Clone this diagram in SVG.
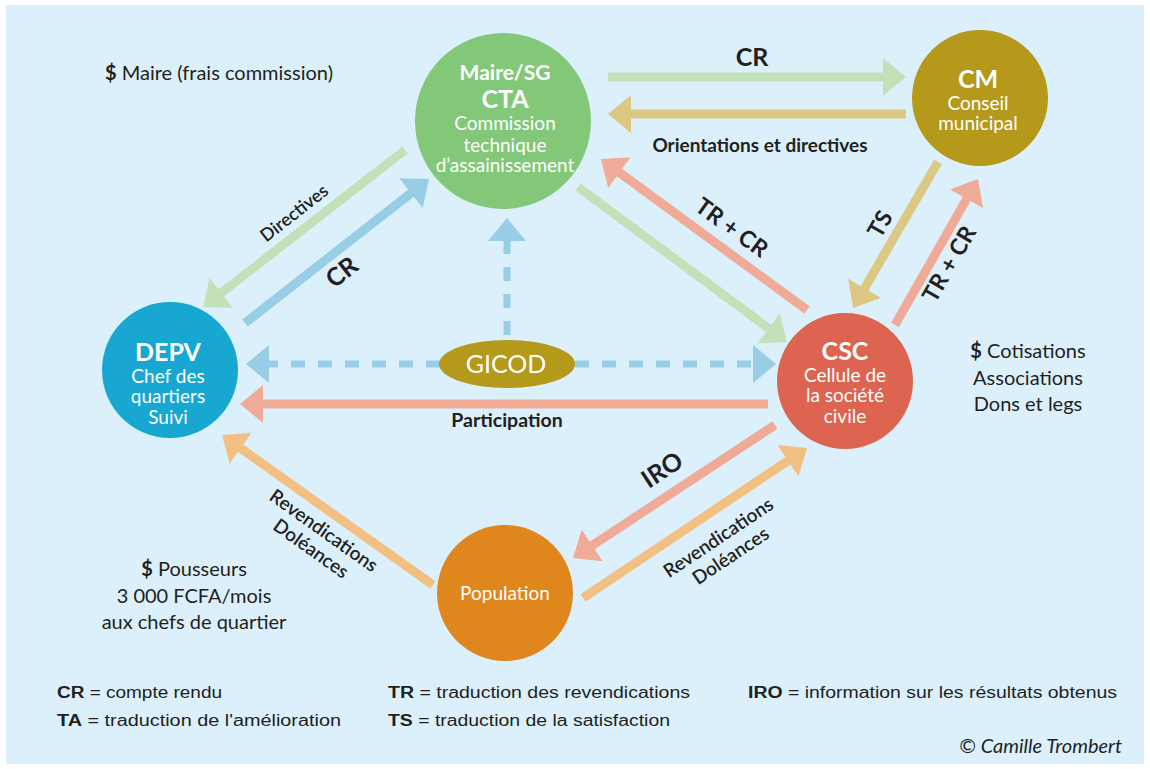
<svg xmlns="http://www.w3.org/2000/svg" width="1150" height="769" viewBox="0 0 1150 769">
<style>
text{font-family:"Lato","Open Sans","Liberation Sans",sans-serif;fill:#231f20}
.w{fill:#fff}
.b{font-weight:700}
.c{text-anchor:middle}
.sh{fill:none;stroke-width:9}
.g{stroke:#c3e1b9}.t{stroke:#dcc783}.bl{stroke:#98cde6}.s{stroke:#efab98}.o{stroke:#f3c083}
.d{stroke-dasharray:14 13;stroke-width:7}
.leg{font-family:"Liberation Sans Narrow","Liberation Sans",sans-serif;font-size:16px}
</style>
<defs>
<marker id="mg" markerUnits="userSpaceOnUse" markerWidth="24" markerHeight="38" refX="1" refY="19" orient="auto" viewBox="0 0 24 38"><path d="M0,0L23,19L0,38z" fill="#c3e1b9"/></marker>
<marker id="mt" markerUnits="userSpaceOnUse" markerWidth="24" markerHeight="38" refX="1" refY="19" orient="auto" viewBox="0 0 24 38"><path d="M0,0L23,19L0,38z" fill="#dcc783"/></marker>
<marker id="mb" markerUnits="userSpaceOnUse" markerWidth="24" markerHeight="38" refX="1" refY="19" orient="auto" viewBox="0 0 24 38"><path d="M0,0L23,19L0,38z" fill="#98cde6"/></marker>
<marker id="ms" markerUnits="userSpaceOnUse" markerWidth="24" markerHeight="38" refX="1" refY="19" orient="auto" viewBox="0 0 24 38"><path d="M0,0L23,19L0,38z" fill="#efab98"/></marker>
<marker id="mo" markerUnits="userSpaceOnUse" markerWidth="24" markerHeight="38" refX="1" refY="19" orient="auto" viewBox="0 0 24 38"><path d="M0,0L23,19L0,38z" fill="#f3c083"/></marker>
</defs>
<rect width="1150" height="769" fill="#fff"/>
<rect x="6" y="5" width="1138" height="759" fill="#dbf0fb"/>

<g id="connectors">
<line class="sh g" x1="608" y1="77" x2="884" y2="77" marker-end="url(#mg)"/>
<line class="sh t" x1="906" y1="114" x2="630" y2="114" marker-end="url(#mt)"/>
<line class="sh g" x1="405" y1="150" x2="220.4" y2="293.5" marker-end="url(#mg)"/>
<line class="sh bl" x1="245" y1="323" x2="411.7" y2="192.6" marker-end="url(#mb)"/>
<line class="sh s" x1="807" y1="310" x2="618.7" y2="172" marker-end="url(#ms)"/>
<line class="sh g" x1="578" y1="187" x2="769.3" y2="328.9" marker-end="url(#mg)"/>
<line class="sh t" x1="938" y1="162" x2="864.1" y2="289" marker-end="url(#mt)"/>
<line class="sh s" x1="895" y1="325" x2="967.1" y2="198.1" marker-end="url(#ms)"/>
<line class="sh bl d" x1="440" y1="364" x2="268" y2="364" marker-end="url(#mb)"/>
<line class="sh bl d" x1="575" y1="364" x2="754" y2="364" marker-end="url(#mb)"/>
<line class="sh bl d" x1="507" y1="335" x2="507" y2="240" marker-end="url(#mb)"/>
<line class="sh s" x1="768" y1="404" x2="262" y2="404" marker-end="url(#ms)"/>
<line class="sh o" x1="433" y1="585" x2="239.9" y2="447.7" marker-end="url(#mo)"/>
<line class="sh s" x1="775" y1="425" x2="591.4" y2="545.9" marker-end="url(#ms)"/>
<line class="sh o" x1="583" y1="598" x2="788.7" y2="460.2" marker-end="url(#mo)"/>

<text class="b c" x="752" y="66" font-size="25">CR</text>
<text class="b c" x="760" y="152" font-size="19">Orientations et directives</text>
<text class="c" font-size="18" font-weight="600" transform="translate(298,218) rotate(-38)">Directives</text>
<text class="b c" font-size="25" transform="translate(347,279) rotate(-38)">CR</text>
<text class="b c" font-size="23" transform="translate(727,234) rotate(36)">TR + CR</text>
<text class="b c" font-size="23" transform="translate(887,228) rotate(-60)">TS</text>
<text class="b c" font-size="23" transform="translate(956,268) rotate(-60)">TR + CR</text>
<text class="b c" x="507" y="427" font-size="19.5">Participation</text>
<g transform="translate(320,536) rotate(35.4)" font-size="19" font-weight="600"><text class="c" y="0">Revendications</text><text class="c" y="22">Doléances</text></g>
<text class="b c" font-size="25" transform="translate(667,477) rotate(-33.4)">IRO</text>
<g transform="translate(722,543) rotate(-33.8)" font-size="19" font-weight="600"><text class="c" y="0">Revendications</text><text class="c" y="22">Doléances</text></g>
</g>

<g id="node-cta">
<circle cx="503" cy="121" r="88" fill="#83c878"/>
<text class="w b c" x="505" y="80" font-size="21">Maire/SG</text>
<text class="w b c" x="505" y="108" font-size="25">CTA</text>
<text class="w c" x="505" y="130" font-size="19">Commission</text>
<text class="w c" x="505" y="152" font-size="19">technique</text>
<text class="w c" x="505" y="172" font-size="19">d’assainissement</text>
</g>
<g id="node-cm">
<circle cx="980" cy="98" r="68" fill="#b5991a"/>
<text class="w b c" x="978" y="88" font-size="25">CM</text>
<text class="w c" x="978" y="110" font-size="19">Conseil</text>
<text class="w c" x="978" y="130" font-size="19">municipal</text>
</g>
<g id="node-depv">
<circle cx="170" cy="370" r="68" fill="#18a7d0"/>
<text class="w b c" x="168" y="361" font-size="25">DEPV</text>
<text class="w c" x="168" y="383" font-size="19">Chef des</text>
<text class="w c" x="168" y="403" font-size="19">quartiers</text>
<text class="w c" x="168" y="424" font-size="19">Suivi</text>
</g>
<g id="node-csc">
<circle cx="845" cy="381" r="68" fill="#dd6451"/>
<text class="w b c" x="845" y="360" font-size="25">CSC</text>
<text class="w c" x="845" y="382" font-size="19">Cellule de</text>
<text class="w c" x="845" y="402" font-size="19">la société</text>
<text class="w c" x="845" y="423" font-size="19">civile</text>
</g>
<g id="node-gicod">
<ellipse cx="507" cy="364" rx="68" ry="24" fill="#b5991a"/>
<text class="w c" x="506" y="373" font-size="25">GICOD</text>
</g>
<g id="node-population">
<circle cx="505" cy="593" r="68" fill="#df861c"/>
<text class="w c" x="505" y="600" font-size="19">Population</text>
</g>

<g id="notes" font-size="20">
<text x="105" y="80"><tspan class="b">$</tspan> Maire (frais commission)</text>
<text class="c" x="1028" y="358"><tspan class="b">$</tspan> Cotisations</text>
<text class="c" x="1028" y="385">Associations</text>
<text class="c" x="1028" y="411">Dons et legs</text>
<text class="c" x="194" y="576"><tspan class="b">$</tspan> Pousseurs</text>
<text class="c" x="194" y="603">3 000 FCFA/mois</text>
<text class="c" x="194" y="629">aux chefs de quartier</text>
</g>

<g id="legend">
<text class="leg" x="57" y="698" textLength="165" lengthAdjust="spacingAndGlyphs"><tspan class="b">CR</tspan> = compte rendu</text>
<text class="leg" x="388" y="698" textLength="302" lengthAdjust="spacingAndGlyphs"><tspan class="b">TR</tspan> = traduction des revendications</text>
<text class="leg" x="748" y="698" textLength="369" lengthAdjust="spacingAndGlyphs"><tspan class="b">IRO</tspan> = information sur les résultats obtenus</text>
<text class="leg" x="57" y="726" textLength="284" lengthAdjust="spacingAndGlyphs"><tspan class="b">TA</tspan> = traduction de l'amélioration</text>
<text class="leg" x="388" y="726" textLength="282" lengthAdjust="spacingAndGlyphs"><tspan class="b">TS</tspan> = traduction de la satisfaction</text>
<text x="1122" y="753" font-size="20" font-style="italic" text-anchor="end">© Camille Trombert</text>
</g>
</svg>
